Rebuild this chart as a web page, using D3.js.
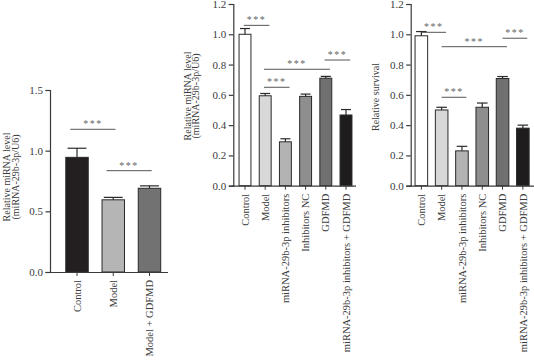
<!DOCTYPE html>
<html>
<head>
<meta charset="utf-8">
<script src="https://cdn.jsdelivr.net/npm/d3@7"></script>
<style>
  body { margin: 0; background: #fff; }
  svg { display: block; }
</style>
</head>
<body>
<script>
// ---- data ----
var groupsA = ["Control", "Model", "Model + GDFMD"];
var meanA = [0.945, 0.595, 0.69];
var errA = [0.075, 0.02, 0.02];
var fillA = ["#231f20", "#b5b5b5", "#727272"];
var sigA = [[0, 1, 1.176], [1, 2, 0.835]];

var groupsB = ["Control", "Model", "miRNA-29b-3p inhibitors", "Inhibitors NC", "GDFMD", "miRNA-29b-3p inhibitors + GDFMD"];
var meanB = [1.0, 0.594, 0.29, 0.59, 0.71, 0.467];
var errB = [0.038, 0.015, 0.02, 0.015, 0.012, 0.036];
var meanC = [0.99, 0.50, 0.23, 0.518, 0.708, 0.38];
var errC = [0.028, 0.018, 0.03, 0.028, 0.013, 0.02];
var fillB = ["#ffffff", "#d8d8d8", "#b3b3b3", "#8e8e8e", "#707070", "#1e1c1d"];
var sigB = [[0, 1, 1.059], [1, 4, 0.769], [4, 5, 0.83], [1, 2, 0.65]];
var sigC = [[0, 1, 1.013], [1, 4, 0.918], [4, 5, 0.974], [1, 2, 0.584]];

var ticksA = [0, 0.5, 1.0, 1.5];
var ticksB = [0, 0.2, 0.4, 0.6, 0.8, 1.0, 1.2];

var w = 534, h = 361;
var font = "'Liberation Serif', 'Times New Roman', serif";
var ink = "#3a3a3a";

var svg = d3.select("body").append("svg")
  .attr("width", w)
  .attr("height", h);

function drawPanel(p) {
  var g = svg.append("g");
  var x = d3.scaleBand()
    .domain(p.groups)
    .range(p.xRange)
    .paddingInner(p.pad)
    .paddingOuter(p.pad / 2);
  var y = d3.scaleLinear()
    .domain([0, p.yMax])
    .range(p.yRange);
  var bw = x.bandwidth();
  var cx = function(i) { return x(p.groups[i]) + bw / 2; };

  // bars
  g.selectAll("rect.bar")
    .data(p.groups)
    .enter()
    .append("rect")
    .attr("class", "bar")
    .attr("x", function(d) { return x(d); })
    .attr("y", function(d, i) { return y(p.mean[i]); })
    .attr("width", bw)
    .attr("height", function(d, i) { return y(0) - y(p.mean[i]); })
    .attr("fill", function(d, i) { return p.fill[i]; })
    .attr("stroke", "#2a2a2a")
    .attr("stroke-width", 1);

  // error bars
  var cap = bw * 0.42;
  g.selectAll("line.err")
    .data(p.groups)
    .enter()
    .append("line")
    .attr("x1", function(d, i) { return cx(i); })
    .attr("x2", function(d, i) { return cx(i); })
    .attr("y1", function(d, i) { return y(p.mean[i]); })
    .attr("y2", function(d, i) { return y(p.mean[i] + p.err[i]); })
    .attr("stroke", "#2a2a2a")
    .attr("stroke-width", 1.2);
  g.selectAll("line.cap")
    .data(p.groups)
    .enter()
    .append("line")
    .attr("x1", function(d, i) { return cx(i) - cap; })
    .attr("x2", function(d, i) { return cx(i) + cap; })
    .attr("y1", function(d, i) { return y(p.mean[i] + p.err[i]); })
    .attr("y2", function(d, i) { return y(p.mean[i] + p.err[i]); })
    .attr("stroke", "#2a2a2a")
    .attr("stroke-width", 1.2);

  // y axis
  var yAxis = g.append("g")
    .attr("transform", "translate(" + p.axisX + ",0)")
    .call(d3.axisLeft(y).tickValues(p.ticks).tickFormat(d3.format(".1f")).tickSize(4.5).tickPadding(2.5));
  yAxis.select(".domain").attr("stroke", ink).attr("stroke-width", 1.2);
  yAxis.selectAll(".tick line").attr("stroke", ink).attr("stroke-width", 1.2);
  yAxis.selectAll("text")
    .attr("fill", ink)
    .style("font-family", font)
    .style("font-size", "11px");

  // x axis
  var xAxis = g.append("g")
    .attr("transform", "translate(0," + y(0) + ")")
    .call(d3.axisBottom(x).tickSize(4).tickSizeOuter(0).tickPadding(6));
  xAxis.select(".domain")
    .attr("d", "M" + (p.axisX - 1) + ",0.5H" + p.xEnd)
    .attr("stroke", ink).attr("stroke-width", 1.2);
  xAxis.selectAll(".tick line").attr("stroke", ink).attr("stroke-width", 1);
  xAxis.selectAll("text")
    .attr("fill", ink)
    .style("font-family", font)
    .style("font-size", "10.5px")
    .attr("text-anchor", "end")
    .attr("transform", "rotate(-90)")
    .attr("x", -8)
    .attr("y", 0)
    .attr("dy", "0.35em");

  // y title
  var title = g.append("text")
    .attr("transform", "translate(" + p.titleX + "," + p.titleY + ") rotate(-90)")
    .attr("text-anchor", "middle")
    .attr("fill", ink)
    .style("font-family", font)
    .style("font-size", "10px");
  p.title.forEach(function(t, i) {
    title.append("tspan")
      .attr("x", 0)
      .attr("dy", i == 0 ? 0 : 8.5)
      .text(t);
  });

  // significance brackets
  g.selectAll("line.sig")
    .data(p.sig)
    .enter()
    .append("line")
    .attr("x1", function(d) { return cx(d[0]) - bw * p.sigL; })
    .attr("x2", function(d) { return cx(d[1]) + bw * p.sigR; })
    .attr("y1", function(d) { return y(d[2]); })
    .attr("y2", function(d) { return y(d[2]); })
    .attr("stroke", "#555")
    .attr("stroke-width", 1);
  g.selectAll("text.sig")
    .data(p.sig)
    .enter()
    .append("text")
    .attr("x", function(d) { return (cx(d[0]) - bw * p.sigL + cx(d[1]) + bw * p.sigR) / 2; })
    .attr("y", function(d) { return y(d[2]) - 2; })
    .attr("text-anchor", "middle")
    .attr("fill", "#666")
    .style("font-family", font)
    .style("font-size", "10px")
    .style("letter-spacing", "1.5px")
    .text("***");
}

drawPanel({
  groups: groupsA, mean: meanA, err: errA, fill: fillA, sig: sigA,
  ticks: ticksA, yMax: 1.5, yRange: [272, 90],
  xRange: [58.9, 167.6], pad: 0.38, axisX: 50, xEnd: 168,
  title: ["Relative miRNA level", "(miRNA-29b-3p/U6)"], titleX: 10, titleY: 177,
  sigL: 0.3, sigR: 0.1
});

drawPanel({
  groups: groupsB, mean: meanB, err: errB, fill: fillB, sig: sigB,
  ticks: ticksB, yMax: 1.2, yRange: [185.7, 4],
  xRange: [234.9, 356.1], pad: 0.41, axisX: 233.3, xEnd: 356,
  title: ["Relative miRNA level", "(miRNA-29b-3p/U6)"], titleX: 190.5, titleY: 96,
  sigL: 0.1, sigR: 0.35
});

drawPanel({
  groups: groupsB, mean: meanC, err: errC, fill: fillB, sig: sigC,
  ticks: ticksB, yMax: 1.2, yRange: [185.7, 4],
  xRange: [411.2, 533], pad: 0.38, axisX: 410.7, xEnd: 534,
  title: ["Relative survival"], titleX: 379, titleY: 97,
  sigL: 0.0, sigR: 0.35
});
</script>
</body>
</html>
